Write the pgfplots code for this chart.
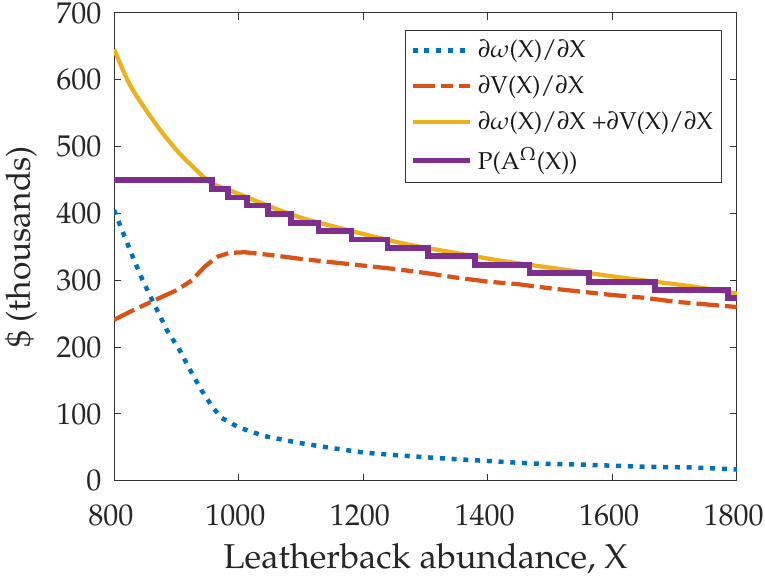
\documentclass[border=0pt]{standalone}
\usepackage[T1]{fontenc}
\usepackage{mathpazo}
\usepackage{pgfplots}
\pgfplotsset{compat=1.18}
\definecolor{mblue}{rgb}{0,0.447,0.741}
\definecolor{morange}{rgb}{0.85,0.325,0.098}
\definecolor{myellow}{rgb}{0.929,0.694,0.125}
\definecolor{mpurple}{rgb}{0.494,0.184,0.556}
\begin{document}
\begin{tikzpicture}
\begin{axis}[
  name=ax,
  scale only axis, width=249pt, height=187pt,
  xmin=800, xmax=1800, ymin=0, ymax=700,
  xtick={800,1000,...,1800}, ytick={0,100,...,700},
  tick align=inside, xtick pos=both, ytick pos=both,
  major tick length=2.6pt,
  axis line style={draw=black!80, line width=0.4pt},
  every tick/.style={draw=black!80, line width=0.4pt},
  /pgf/number format/1000 sep={},
  /pgf/number format/assume math mode=true,
  tick label style={font=\fontsize{12}{14}\selectfont, text=black!85},
  xticklabel style={yshift=-6pt, xshift=-1.3pt},
  yticklabel style={xshift=-1.5pt},
  xlabel style={font=\fontsize{13.8}{16}\selectfont, text=black!85, yshift=0pt},
  ylabel style={font=\fontsize{13.4}{16}\selectfont, text=black!85, yshift=1pt},
  xlabel={Leatherback abundance, X},
  ylabel={\$ (thousands)},
  legend style={at={(rel axis cs:0.976,0.963)}, anchor=north east,
    draw=black!80, line width=0.4pt, font=\fontsize{9.75}{11}\selectfont,
    text=black!90, inner sep=1.5pt, row sep=1.8pt},
  legend cell align=left,
  legend image code/.code={\draw[#1] (0pt,0pt) -- (23pt,0pt);},
]
\addplot[mblue, line width=1.8pt, dash pattern=on 2pt off 2.7pt] coordinates {
(800,405)(815,370)(830,335)(845,302)(864,265)(885,225)(905,196)(922,166)
(940,136)(959,109)(973,94)(1000,80)(1041,67)(1095,57)(1149,49)(1203,42)
(1258,38)(1319,34)(1393,30)(1468,26)(1556,24)(1651,21)(1725,20)(1800,17)};
\addlegendentry{$\partial\omega$(X)/$\partial$X}
\addplot[morange, line width=1.7pt, dash pattern=on 9pt off 2.4pt on 4.8pt off 2.4pt] coordinates {
(800,241)(830,255)(860,268)(900,285)(925,300)(945,320)(965,335)(985,341)
(1010,342)(1050,338)(1100,332)(1150,327)(1200,322)(1250,317)(1300,311)
(1350,304)(1400,298)(1450,294)(1500,288)(1550,283)(1600,278)(1650,274)
(1700,268)(1750,264)(1800,260)};
\addlegendentry{$\partial$V(X)/$\partial$X}
\addplot[myellow, line width=1.7pt, smooth] coordinates {
(800,646)(824,595)(851,555)(878,520)(905,490)(932,465)(953,447)(970,440)
(998,430)(1030,418)(1065,405)(1106,392)(1155,380)(1210,367)(1270,354)
(1342,342)(1423,329)(1515,317)(1615,304)(1727,291)(1800,280)};
\addlegendentry{$\partial\omega$(X)/$\partial$X +$\partial$V(X)/$\partial$X}
\addplot[mpurple, line width=2.3pt, const plot] coordinates {
(800,450)(957,437)(983,424)(1013,412)(1047,399)(1084,386)(1128,374)
(1181,361)(1239,348)(1304,336)(1380,323)(1467,311)(1562,298)(1668,285)
(1786,273)(1800,273)};
\addlegendentry{P(A$^\Omega$(X))}
\end{axis}
\pgfresetboundingbox
\path ([shift={(-45.6pt,-38.8pt)}]ax.south west) rectangle ([shift={(11.2pt,5.2pt)}]ax.north east);
\end{tikzpicture}
\end{document}
